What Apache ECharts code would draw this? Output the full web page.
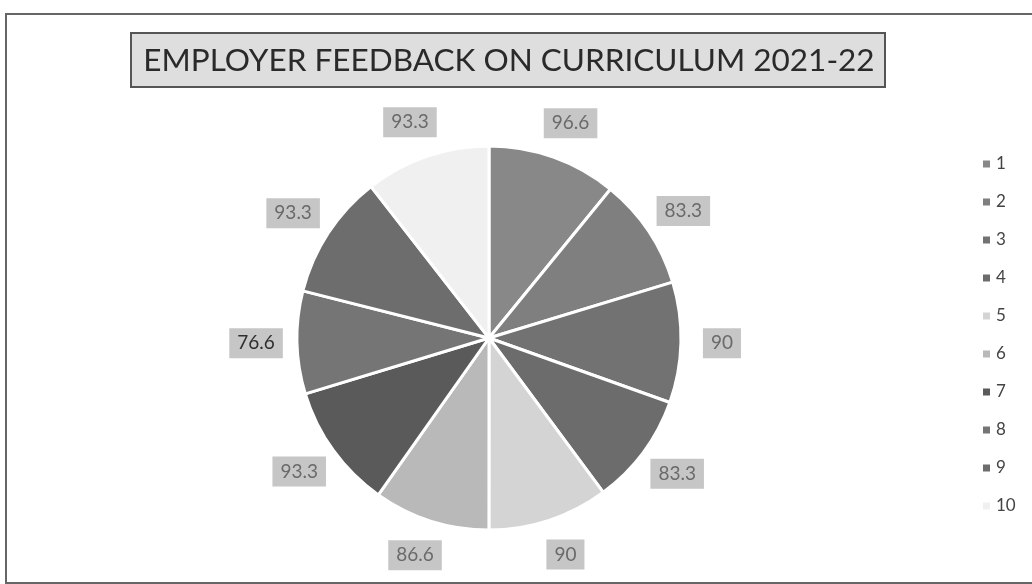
<!DOCTYPE html>
<html>
<head>
<meta charset="utf-8">
<script src="https://cdn.jsdelivr.net/npm/echarts@6/dist/echarts.min.js"></script>
<style>
html,body{margin:0;padding:0;background:#fff;}
#chart{width:1032px;height:584px;}
</style>
</head>
<body>
<div id="chart"></div>
<script>
const titleText = 'EMPLOYER FEEDBACK ON CURRICULUM 2021-22';
const categories = ['1','2','3','4','5','6','7','8','9','10'];
const values = [96.6, 83.3, 90, 83.3, 90, 86.6, 93.3, 76.6, 93.3, 93.3];
const sliceColors = ['#888888','#7f7f7f','#727272','#6c6c6c','#d4d4d4','#b9b9b9','#5a5a5a','#757575','#6d6d6d','#f0f0f0'];
const labelTextColors = ['#6a6a6a','#6a6a6a','#6a6a6a','#6a6a6a','#6a6a6a','#6a6a6a','#6a6a6a','#2e2e2e','#6a6a6a','#6a6a6a'];

const chart = echarts.init(document.getElementById('chart'), null, {renderer:'canvas'});
const labelFont = {fontFamily:'Lato', fontSize:19};
const data = categories.map((c, i) => ({
  name: c,
  value: values[i],
  itemStyle: {color: sliceColors[i]},
  label: Object.assign({color: labelTextColors[i]}, labelFont)
}));

chart.setOption({
  animation: false,
  backgroundColor: '#ffffff',
  graphic: [
    {type:'rect', shape:{x:6, y:14, width:1040, height:569}, style:{fill:'none', stroke:'#666', lineWidth:2}, silent:true},
    {type:'rect', shape:{x:131, y:33, width:754, height:54}, style:{fill:'#dedede', stroke:'#555', lineWidth:2}, silent:true},
    {type:'text', x:509, y:61, style:{
      text: titleText, fontFamily:'Lato', fontSize:31.5, fill:'#2a2a2a',
      align:'center', verticalAlign:'middle'
    }, silent:true}
  ],
  legend: {
    orient: 'vertical',
    left: 976,
    top: 149,
    itemWidth: 9,
    itemHeight: 9,
    itemGap: 18,
    icon: 'rect',
    textStyle: {fontFamily:'Lato', fontSize:17, color:'#444', lineHeight:20},
    data: categories
  },
  series: [{
    type: 'pie',
    center: [489, 338],
    radius: 192,
    startAngle: 90,
    clockwise: true,
    data: data,
    itemStyle: {borderColor:'#ffffff', borderWidth:3},
    label: {
      show: true,
      position: 'outside',
      formatter: '{c}',
      fontFamily: 'Lato',
      fontSize: 19,
      backgroundColor: '#c6c6c6',
      padding: [6, 8, 5, 8]
    },
    labelLine: {show:false, length:36, length2:0},
    labelLayout: {align:'center', verticalAlign:'middle'},
    emphasis: {disabled:true}
  }]
});
</script>
</body>
</html>
